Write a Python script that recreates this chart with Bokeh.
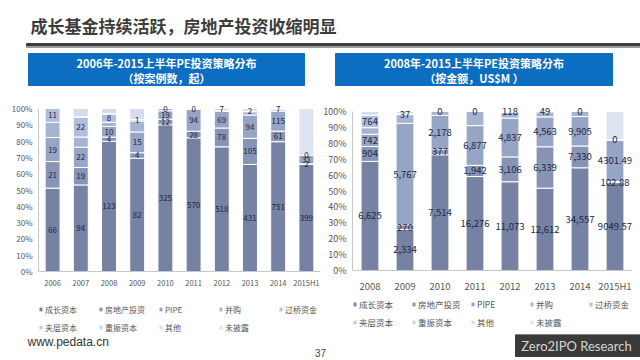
from bokeh.plotting import figure
from bokeh.models import (ColumnDataSource, FactorRange, Range1d, Legend, LegendItem,
                          NumeralTickFormatter, FixedTicker)
from bokeh.layouts import column, row
from bokeh.embed import file_html
from bokeh.resources import INLINE
from bokeh.core.properties import value

CJK = "Noto Sans CJK SC"

# ---------------- data ----------------
SERIES = ["成长资本", "房地产投资", "PIPE", "并购", "过桥资金", "夹层资本", "重振资本", "其他", "未披露"]
COLORS = ["#7682a3", "#8794b5", "#96a4c5", "#a6b3d2", "#b2bedb", "#bfc9e2", "#cad3e9", "#d4dcee", "#dfe4f2"]
LABELED = ["成长资本", "房地产投资", "PIPE", "过桥资金"]

YEARS_L = ["2006", "2007", "2008", "2009", "2010", "2011", "2012", "2013", "2014", "2015H1"]
L_GROWTH = [66, 94, 123, 82, 325, 570, 518, 431, 751, 399]
L_REAL = [21, 19, 4, 4, 12, 28, 78, 105, 61, 2]
L_PIPE = [19, 22, 10, 15, 19, 94, 69, 94, 115, 31]
L_MA = [12, 11, 4, 8, 5, 3, 5, 13, 9, 0]
L_BRIDGE = [11, 22, 8, 1, 0, 0, 7, 2, 7, 0]
L_MEZZ = [0, 0, 0, 0, 0, 0, 0, 0, 0, 0]
L_DISTRESS = [0, 0, 0, 0, 0, 0, 0, 0, 0, 0]
L_OTHER = [0, 9, 5, 8, 0, 0, 0, 11, 0, 0]
L_UNDISCLOSED = [0, 0, 0, 0, 0, 0, 0, 0, 0, 175]

YEARS_R = ["2008", "2009", "2010", "2011", "2012", "2013", "2014", "2015H1"]
R_GROWTH = [6625, 2334, 7514, 16276, 11073, 12612, 34557, 9049.57]
R_REAL = [904, 270, 377, 1942, 3106, 6339, 7330, 102.88]
R_PIPE = [742, 5767, 2178, 6877, 4837, 4563, 9905, 4301.49]
R_MA = [400, 500, 252, 2445, 710, 784, 1702, 0]
R_BRIDGE = [764, 37, 0, 0, 118, 49, 0, 0]
R_MEZZ = [0, 0, 0, 0, 0, 0, 0, 0]
R_DISTRESS = [0, 0, 0, 0, 0, 0, 0, 0]
R_OTHER = [220, 140, 0, 0, 0, 0, 0, 0]
R_UNDISCLOSED = [0, 0, 0, 0, 0, 0, 0, 2911]

TITLE = "成长基金持续活跃，房地产投资收缩明显"
L_HEAD = ["2006年-2015上半年PE投资策略分布", "（按案例数，起）"]
R_HEAD = ["2008年-2015上半年PE投资策略分布", "（按金额，US$M ）"]

LEFT_VALUES = [L_GROWTH, L_REAL, L_PIPE, L_MA, L_BRIDGE, L_MEZZ, L_DISTRESS, L_OTHER, L_UNDISCLOSED]
RIGHT_VALUES = [R_GROWTH, R_REAL, R_PIPE, R_MA, R_BRIDGE, R_MEZZ, R_DISTRESS, R_OTHER, R_UNDISCLOSED]


def fmt_amount(v):
    if float(v).is_integer():
        return f"{int(v):,}"
    return f"{v:.2f}"


def fmt_count(v):
    return str(int(v))


def make_chart(years, values, fmt, width, height, bl, br, bt, ylow, ytop, bar_w,
               tick_fs, xlab_fs, val_fs, xstand, leg_loc, leg_fs, leg_lw):
    p = figure(x_range=FactorRange(*years), y_range=Range1d(ylow, ytop),
               width=width, height=height, output_backend="svg", toolbar_location=None,
               min_border_left=bl, min_border_right=br, min_border_top=bt, min_border_bottom=0,
               background_fill_color=None, border_fill_color=None, outline_line_color=None)
    totals = [sum(vals[i] for vals in values) for i in range(len(years))]
    data = {"year": years}
    for name, vals in zip(SERIES, values):
        data[name] = [v / t for v, t in zip(vals, totals)]
    src = ColumnDataSource(data)
    rs = p.vbar_stack(SERIES, x="year", width=bar_w, color=COLORS, source=src,
                      line_color="white", line_width=1)

    # value labels
    lx, ly, lt = [], [], []
    for i, yr in enumerate(years):
        cum = 0.0
        for name, vals in zip(SERIES, values):
            frac = vals[i] / totals[i]
            if name in LABELED:
                lx.append(yr)
                ly.append(cum + frac / 2)
                lt.append(fmt(vals[i]))
            cum += frac
    p.text(x=lx, y=ly, text=lt, text_align="center", text_baseline="middle",
           text_font=value(CJK), text_font_size=val_fs, text_color="#1d2743")

    p.xgrid.visible = False
    p.ygrid.visible = False
    p.yaxis.ticker = FixedTicker(ticks=[i / 10 for i in range(11)])
    p.yaxis.formatter = NumeralTickFormatter(format="0%")
    p.yaxis.bounds = (0, 1)
    p.xaxis.fixed_location = 0
    for ax in (p.xaxis, p.yaxis):
        ax.major_tick_line_color = None
        ax.minor_tick_line_color = None
        ax.major_tick_out = 0
        ax.major_tick_in = 0
        ax.minor_tick_out = 0
        ax.axis_line_color = "#c8c8c8"
        ax.major_label_text_color = "#555555"
        ax.major_label_text_font = CJK
    p.yaxis.major_label_text_font_size = tick_fs
    p.yaxis.major_label_standoff = 6
    p.xaxis.major_label_text_font_size = xlab_fs
    p.xaxis.major_label_standoff = xstand

    items = [LegendItem(label=n, renderers=[r]) for n, r in zip(SERIES, rs)]
    leg = Legend(items=items, location=leg_loc, orientation="horizontal", ncols=5,
                 glyph_width=5, glyph_height=6, label_standoff=2, spacing=6,
                 label_width=leg_lw, label_height=12,
                 label_text_font=CJK, label_text_font_size=leg_fs, label_text_color="#555555",
                 padding=0, margin=0, border_line_color=None, background_fill_alpha=0)
    p.add_layout(leg, "center")
    return p


# left: 0% at y=271, 100% at y=108 ; right: 0% at y=270, 100% at y=111 (frame 100..334)
left = make_chart(YEARS_L, LEFT_VALUES, fmt_count, 320, 239, 38, 0, 5, -63 / 163, 171 / 163, 0.53,
                  "8px", "7.5px", "8px", 5, (0, 1), "8px", 47)
right = make_chart(YEARS_R, RIGHT_VALUES, fmt_amount, 320, 239, 29, 8, 5, -64 / 159, 170 / 159, 0.51,
                   "9px", "9.5px", "9.5px", 8, (0, 6), "8.5px", 46)

# ---------------- header ----------------
top = figure(width=640, height=95, x_range=Range1d(0, 640), y_range=Range1d(95, 0),
             output_backend="svg", toolbar_location=None, min_border=0,
             background_fill_color=None, border_fill_color=None, outline_line_color=None)
top.axis.visible = False
top.grid.visible = False
top.text(x=[30], y=[25], text=[TITLE], text_font=value(CJK), text_font_size="17px",
         text_font_style="bold", text_color="#3c3c3c", text_baseline="middle")
top.quad(left=[26], right=[640], top=[43], bottom=[46], color="#3d3d3d")
top.quad(left=[26], right=[640], top=[46], bottom=[47], color="#9a9a9a")
top.quad(left=[28, 335], right=[304, 612], top=[53, 53], bottom=[85, 85], color="#0b6ec0")
top.text(x=[166, 166, 473.5, 473.5], y=[62.5, 77, 62.5, 77],
         text=[L_HEAD[0], L_HEAD[1], R_HEAD[0], R_HEAD[1]],
         text_font=value(CJK), text_font_size="11px", text_font_style="bold",
         text_color="white", text_align="center", text_baseline="middle")

# ---------------- footer ----------------
bot = figure(width=640, height=26, x_range=Range1d(0, 640), y_range=Range1d(360, 334),
             output_backend="svg", toolbar_location=None, min_border=0,
             background_fill_color=None, border_fill_color=None, outline_line_color=None)
bot.axis.visible = False
bot.grid.visible = False
bot.text(x=[27], y=[341], text=["www.pedata.cn"], text_font=value("Liberation Sans"),
         text_font_size="12px", text_color="#333333", text_baseline="middle")
bot.text(x=[320], y=[352], text=["37"], text_font=value("Liberation Sans"),
         text_font_size="10px", text_color="#444444", text_baseline="middle", text_align="center")
bot.quad(left=[515], right=[640], top=[334], bottom=[356], color="#3a3a3a")
bot.text(x=[576], y=[345], text=["Zero2IPO Research"], text_font=value("Lato"),
         text_font_size="13px", text_font_style="normal", text_color="#d6d6d6",
         text_baseline="middle", text_align="center")

layout = column(top, row(left, right), bot)
open("out.html", "w").write(file_html(layout, INLINE))
